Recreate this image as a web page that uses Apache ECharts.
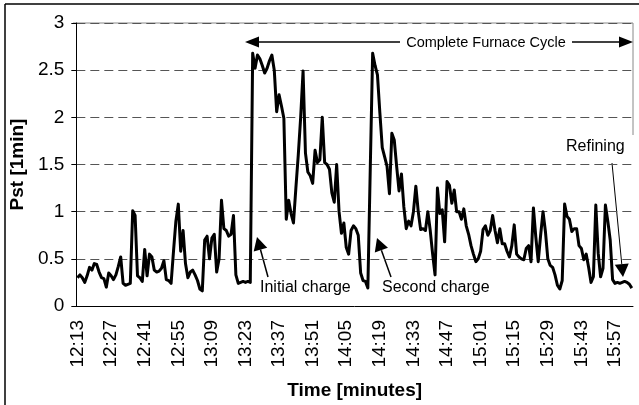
<!DOCTYPE html>
<html>
<head>
<meta charset="utf-8">
<script src="https://cdn.jsdelivr.net/npm/echarts@6/dist/echarts.min.js"></script>
<style>
  html, body { margin: 0; padding: 0; background: #fff; }
  #chart { width: 639px; height: 405px; }
</style>
</head>
<body>
<div id="chart"></div>
<script>
// time axis: one point per minute from 12:13
const startTime = "12:13";
const pointCount = 232;

// Pst [1min] values
const pstValues = [
  0.30, 0.33, 0.30, 0.25, 0.32, 0.41, 0.38, 0.45, 0.44, 0.36, 0.30, 0.29, 0.20, 0.35, 0.32, 0.28, 0.33, 0.42, 0.52, 0.24,
  0.22, 0.23, 0.24, 1.01, 0.96, 0.32, 0.30, 0.26, 0.60, 0.32, 0.55, 0.52, 0.38, 0.36, 0.37, 0.40, 0.48, 0.28, 0.27, 0.24,
  0.58, 0.90, 1.08, 0.58, 0.80, 0.45, 0.30, 0.36, 0.38, 0.33, 0.27, 0.18, 0.16, 0.70, 0.74, 0.50, 0.72, 0.76, 0.36, 0.50,
  1.12, 0.82, 0.80, 0.74, 0.76, 0.96, 0.33, 0.24, 0.25, 0.26, 0.25, 0.26, 0.25, 2.68, 2.52, 2.66, 2.62, 2.55, 2.47, 2.52,
  2.60, 2.66, 2.50, 2.06, 2.24, 2.12, 1.99, 0.92, 1.12, 0.98, 0.88, 1.25, 1.60, 2.00, 2.49, 1.62, 1.42, 1.38, 1.30, 1.65,
  1.52, 1.55, 2.00, 1.52, 1.50, 1.45, 1.20, 1.10, 1.50, 1.00, 0.77, 0.88, 0.62, 0.55, 0.80, 0.85, 0.82, 0.75, 0.35, 0.27,
  0.26, 0.19, 1.45, 2.68, 2.55, 2.45, 2.05, 1.68, 1.58, 1.48, 1.19, 1.83, 1.76, 1.48, 1.22, 1.40, 1.05, 0.82, 0.90, 0.85,
  1.00, 1.27, 1.00, 0.81, 0.82, 0.80, 1.00, 0.80, 0.55, 0.33, 1.25, 0.98, 1.02, 0.68, 1.32, 1.28, 1.09, 1.23, 1.00, 1.00,
  0.92, 1.03, 0.85, 0.76, 0.64, 0.55, 0.47, 0.50, 0.58, 0.81, 0.85, 0.75, 0.80, 0.96, 0.80, 0.67, 0.82, 0.66, 0.66, 0.58,
  0.52, 0.64, 0.86, 0.55, 0.52, 0.50, 0.49, 0.61, 0.64, 0.47, 1.04, 0.73, 0.47, 0.75, 1.00, 0.79, 0.50, 0.43, 0.41, 0.33,
  0.22, 0.18, 0.27, 1.08, 0.95, 0.92, 0.79, 0.82, 0.82, 0.64, 0.61, 0.49, 0.55, 0.41, 0.25, 0.31, 1.07, 0.56, 0.31, 0.40,
  1.07, 0.90, 0.70, 0.28, 0.24, 0.25, 0.24, 0.25, 0.26, 0.25, 0.23, 0.19
];

const yTicks = [0, 0.5, 1, 1.5, 2, 2.5, 3];

// build "h:mm" labels
const times = [];
let [hh, mm] = startTime.split(":").map(Number);
for (let i = 0; i < pointCount; i++) {
  times.push(hh + ":" + String(mm).padStart(2, "0"));
  mm++;
  if (mm === 60) { mm = 0; hh++; }
}

const FONT = "Liberation Sans, Arial, sans-serif";

// arrow = line + filled triangle head at (x2, y2)
function arrow(x1, y1, x2, y2, width, headLen, headHalf) {
  const dx = x2 - x1, dy = y2 - y1;
  const len = Math.sqrt(dx * dx + dy * dy);
  const ux = dx / len, uy = dy / len;
  const bx = x2 - ux * headLen, by = y2 - uy * headLen;
  return [
    { type: "line", shape: { x1: x1, y1: y1, x2: bx, y2: by },
      style: { stroke: "#000", lineWidth: width } },
    { type: "polygon",
      shape: { points: [[x2, y2], [bx - uy * headHalf, by + ux * headHalf], [bx + uy * headHalf, by - ux * headHalf]] },
      style: { fill: "#000" } }
  ];
}

function label(text, x, y, size, align) {
  return { type: "text", x: x, y: y,
    style: { text: text, font: size + "px " + FONT, fill: "#000",
      textAlign: align || "left", textVerticalAlign: "middle" } };
}

const chart = echarts.init(document.getElementById("chart"));

chart.setOption({
  animation: false,
  backgroundColor: "#fff",
  grid: { left: 73, right: 6, top: 23, bottom: 99, containLabel: false },
  xAxis: {
    type: "category",
    data: times,
    boundaryGap: true,
    name: "Time [minutes]",
    nameLocation: "middle",
    nameGap: 75,
    nameTextStyle: { fontFamily: FONT, fontSize: 19, fontWeight: "bold", color: "#000" },
    axisLine: { lineStyle: { color: "#000", width: 1 } },
    axisTick: { interval: 0, length: 4, lineStyle: { color: "#000" } },
    axisLabel: { interval: 13, rotate: 90, margin: 14, fontFamily: FONT, fontSize: 19, color: "#000" },
    splitLine: { show: false }
  },
  yAxis: {
    type: "value",
    min: 0,
    max: 3,
    interval: 0.5,
    name: "Pst [1min]",
    nameLocation: "middle",
    nameGap: 46,
    nameTextStyle: { fontFamily: FONT, fontSize: 19, fontWeight: "bold", color: "#000" },
    axisLine: { show: true, lineStyle: { color: "#000", width: 1 } },
    axisTick: { show: true, length: 5, lineStyle: { color: "#000" } },
    axisLabel: { margin: 12, fontFamily: FONT, fontSize: 19, color: "#000",
      formatter: v => yTicks.includes(v) ? String(v) : "" },
    splitLine: { show: true, lineStyle: { color: "#555", width: 1, type: [9, 5] } }
  },
  series: [{
    type: "line",
    data: pstValues,
    symbol: "none",
    lineStyle: { color: "#000", width: 3, join: "round" },
    z: 3
  }],
  graphic: [
    // outer chart frame (left and top only visible)
    { type: "line", shape: { x1: 5, y1: 4, x2: 5, y2: 405 }, style: { stroke: "#000", lineWidth: 1.5 } },
    { type: "line", shape: { x1: 5, y1: 4, x2: 639, y2: 4 }, style: { stroke: "#000", lineWidth: 1.5 } },
    // plot area border
    { type: "line", shape: { x1: 73, y1: 23, x2: 633, y2: 23 }, style: { stroke: "#888", lineWidth: 1 } },
    { type: "line", shape: { x1: 633, y1: 23, x2: 633, y2: 135 }, style: { stroke: "#888", lineWidth: 1 } },
    // complete furnace cycle double arrow
    ...arrow(400, 42, 245, 42, 1.5, 14, 5.5),
    ...arrow(572, 42, 633, 42, 1.5, 14, 5.5),
    label("Complete Furnace Cycle", 486, 43, 14.5, "center"),
    // initial charge
    ...arrow(268, 277, 257, 237, 1.5, 13, 7),
    label("Initial charge", 260, 288, 16),
    // second charge
    ...arrow(391, 277, 377, 238, 1.5, 13, 7),
    label("Second charge", 382, 288, 16),
    // refining
    ...arrow(612, 163, 623, 277, 1, 13, 7),
    label("Refining", 566, 147, 16)
  ]
});
</script>
</body>
</html>
